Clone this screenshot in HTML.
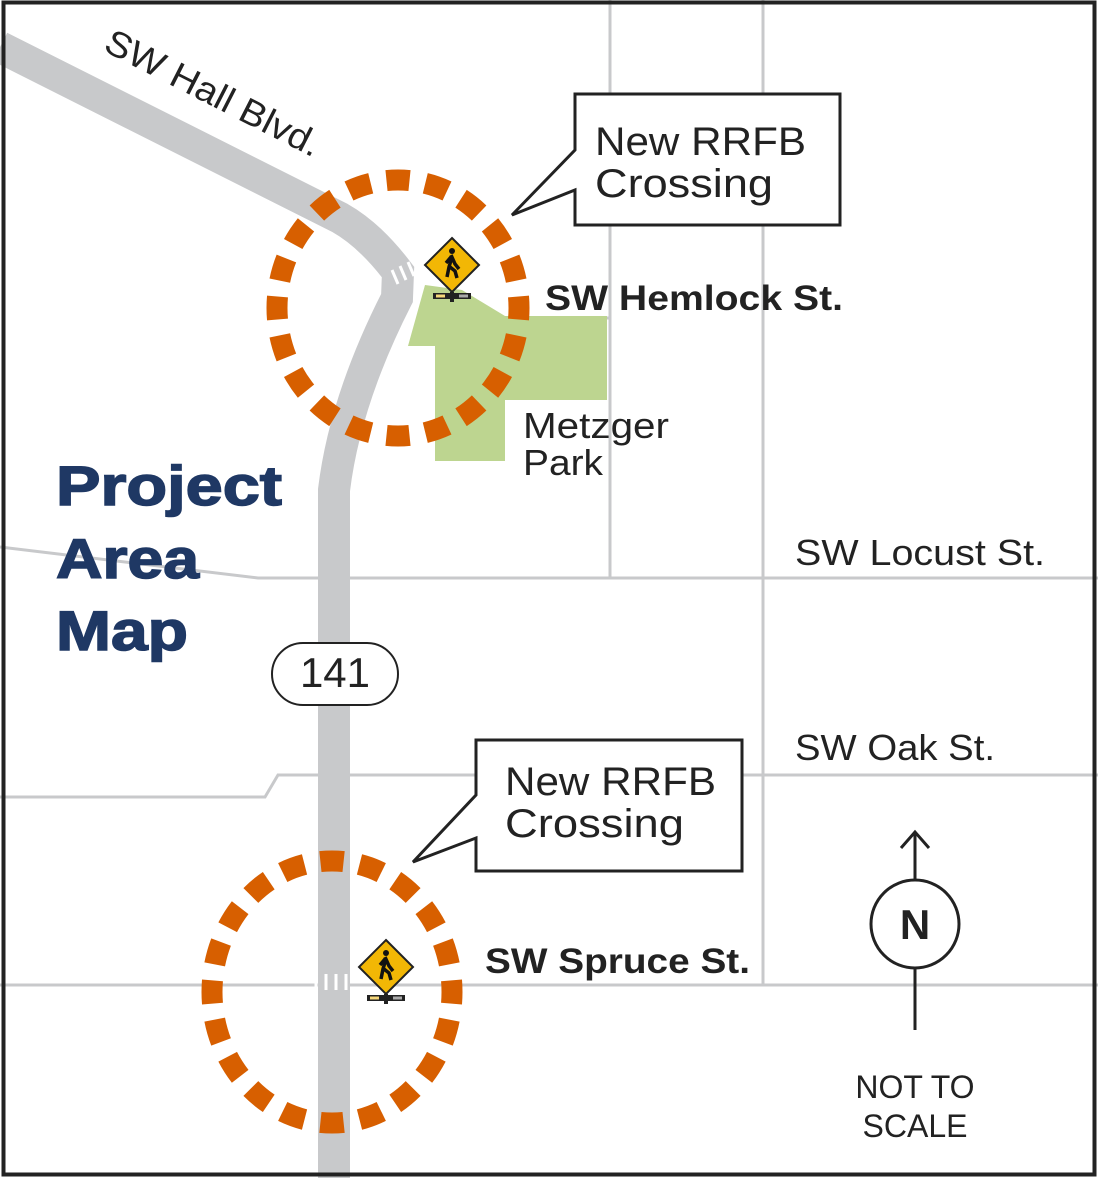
<!DOCTYPE html>
<html><head><meta charset="utf-8"><style>
html,body{margin:0;padding:0;background:#fff}
svg{display:block}
text{font-family:"Liberation Sans",sans-serif}
</style></head><body>
<svg width="1098" height="1178" viewBox="0 0 1098 1178" xmlns="http://www.w3.org/2000/svg">
<rect x="0" y="0" width="1098" height="1178" fill="#fff"/>
<g stroke="#c8c9cb" stroke-width="3" fill="none">
<line x1="610" y1="0" x2="610" y2="577"/>
<line x1="763" y1="0" x2="763" y2="985"/>
<polyline points="0,547 258,578 1098,578"/>
<polyline points="0,797 265,797 278,775 1098,775"/>
<line x1="0" y1="985" x2="1098" y2="985"/>
<polyline points="455,293 505,318 610,318"/>
</g>
<polygon points="425,285 462,290 505,316 607,316 607,400 505,400 505,461 435,461 435,346 408,346" fill="#bdd590"/>
<path d="M0,47 L340,218 Q370,235 398,272 L397,298 Q345,400 334,490 L334,1178" fill="none" stroke="#c8c9cb" stroke-width="32"/>
<g stroke="#fff" stroke-width="3">
<line x1="392" y1="270" x2="398" y2="284"/><line x1="400" y1="266" x2="406" y2="280"/><line x1="408" y1="262" x2="414" y2="276"/>
<line x1="326" y1="974" x2="326" y2="990"/><line x1="336" y1="974" x2="336" y2="990"/><line x1="316" y1="974" x2="316" y2="990"/><line x1="346" y1="974" x2="346" y2="990"/>
</g>
<rect x="3.5" y="2.5" width="1091" height="1172" fill="none" stroke="#222" stroke-width="4"/>
<ellipse cx="398" cy="308" rx="121" ry="128" pathLength="780" fill="none" stroke="#d75f00" stroke-width="21" stroke-dasharray="23 16" stroke-dashoffset="11.5"/>
<ellipse cx="332" cy="992" rx="120" ry="131" pathLength="780" fill="none" stroke="#d75f00" stroke-width="21" stroke-dasharray="23 16" stroke-dashoffset="11.5"/>
<g transform="translate(452,265)">
<polygon points="0,-27 27,0 0,27 -27,0" fill="#f2b705" stroke="#222" stroke-width="2"/>
<circle cx="0" cy="-14" r="3" fill="#111"/>
<path d="M-1,-10 L3,-1 L7,4 M0,-8 L-3,2 L-5,12 M-2,2 L3,6 L5,13 M-1,-8 L-6,-2" stroke="#111" stroke-width="3.5" fill="none"/>
<rect x="-2" y="27" width="4" height="10" fill="#222"/>
<rect x="-19" y="28" width="38" height="6" fill="#222"/>
<rect x="-16" y="29.5" width="9" height="3" fill="#f5d77a"/>
<rect x="7" y="29.5" width="9" height="3" fill="#aaa"/>
</g>
<g transform="translate(386,967)">
<polygon points="0,-27 27,0 0,27 -27,0" fill="#f2b705" stroke="#222" stroke-width="2"/>
<circle cx="0" cy="-14" r="3" fill="#111"/>
<path d="M-1,-10 L3,-1 L7,4 M0,-8 L-3,2 L-5,12 M-2,2 L3,6 L5,13 M-1,-8 L-6,-2" stroke="#111" stroke-width="3.5" fill="none"/>
<rect x="-2" y="27" width="4" height="10" fill="#222"/>
<rect x="-19" y="28" width="38" height="6" fill="#222"/>
<rect x="-16" y="29.5" width="9" height="3" fill="#f5d77a"/>
<rect x="7" y="29.5" width="9" height="3" fill="#aaa"/>
</g>
<path d="M575,150 L575,94 L840,94 L840,225 L575,225 L575,190 L512,215 Z" fill="#fff" stroke="#222" stroke-width="3"/>
<path d="M476,795 L476,740 L742,740 L742,871 L476,871 L476,838 L413,862 Z" fill="#fff" stroke="#222" stroke-width="3"/>
<g font-size="40" fill="#222">
<text x="595" y="155" textLength="211" lengthAdjust="spacingAndGlyphs">New RRFB</text><text x="595" y="197" textLength="178" lengthAdjust="spacingAndGlyphs">Crossing</text>
<text x="505" y="795" textLength="211" lengthAdjust="spacingAndGlyphs">New RRFB</text><text x="505" y="837" textLength="179" lengthAdjust="spacingAndGlyphs">Crossing</text>
</g>
<g font-size="56" font-weight="bold" fill="#1f3864" stroke="#1f3864" stroke-width="1.5">
<text x="56" y="505" textLength="226" lengthAdjust="spacingAndGlyphs">Project</text><text x="56" y="578" textLength="143" lengthAdjust="spacingAndGlyphs">Area</text><text x="56" y="650" textLength="132" lengthAdjust="spacingAndGlyphs">Map</text>
</g>
<text x="545" y="310" font-size="35" font-weight="bold" fill="#222" textLength="298" lengthAdjust="spacingAndGlyphs">SW Hemlock St.</text>
<text x="485" y="973" font-size="35" font-weight="bold" fill="#222" textLength="265" lengthAdjust="spacingAndGlyphs">SW Spruce St.</text>
<g font-size="36" fill="#222">
<text x="523" y="438" textLength="146" lengthAdjust="spacingAndGlyphs">Metzger</text><text x="523" y="475" textLength="80" lengthAdjust="spacingAndGlyphs">Park</text>
<text x="795" y="565" textLength="250" lengthAdjust="spacingAndGlyphs">SW Locust St.</text>
<text x="795" y="760" textLength="200" lengthAdjust="spacingAndGlyphs">SW Oak St.</text>
</g>
<text transform="translate(102,50) rotate(27)" font-size="36" fill="#222" textLength="237" lengthAdjust="spacingAndGlyphs">SW Hall Blvd.</text>
<rect x="272" y="643" width="126" height="62" rx="31" fill="#fff" stroke="#222" stroke-width="2"/>
<text x="335" y="687" font-size="42" text-anchor="middle" fill="#222">141</text>
<g stroke="#222" stroke-width="3" fill="none">
<line x1="915" y1="832" x2="915" y2="880"/>
<polyline points="901,848 915,832 929,848"/>
<circle cx="915" cy="924" r="44"/>
<line x1="915" y1="968" x2="915" y2="1030"/>
</g>
<text x="915" y="939" font-size="42" font-weight="bold" text-anchor="middle" fill="#222">N</text>
<g font-size="32" fill="#222" text-anchor="middle">
<text x="915" y="1098">NOT TO</text><text x="915" y="1137">SCALE</text>
</g>
</svg>
</body></html>
